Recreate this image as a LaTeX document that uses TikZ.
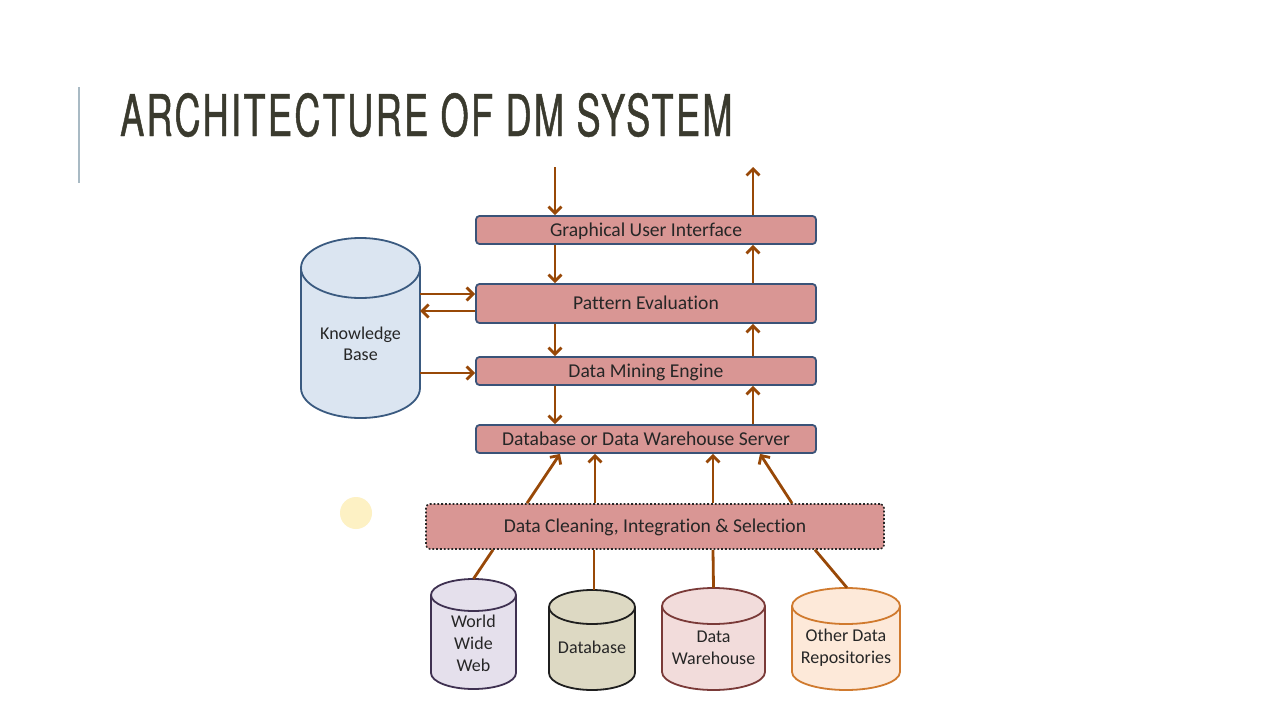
\documentclass[tikz,border=0pt]{standalone}
\usepackage{fontspec}
\setmainfont{Carlito}[Ligatures={NoCommon}]
\newfontfamily\titlefont[FakeStretch=0.6,LetterSpace=4,FakeBold=0.8]{TeX Gyre Heros}
\usetikzlibrary{arrows.meta}
\definecolor{boxfill}{HTML}{D99694}
\definecolor{boxline}{HTML}{3A5378}
\definecolor{arrc}{HTML}{984807}
\definecolor{txt}{HTML}{262626}
\definecolor{titlec}{HTML}{3A3A2E}
\definecolor{rulec}{HTML}{A9BAC4}
\definecolor{kbfill}{HTML}{DBE5F1}
\definecolor{kbline}{HTML}{3A5A80}
\definecolor{wwwfill}{HTML}{E5E0EC}
\definecolor{wwwline}{HTML}{3F3151}
\definecolor{dbfill}{HTML}{DDD9C3}
\definecolor{dbline}{HTML}{1F1F1F}
\definecolor{dwfill}{HTML}{F2DCDB}
\definecolor{dwline}{HTML}{7A3A38}
\definecolor{odfill}{HTML}{FDE9D9}
\definecolor{odline}{HTML}{D07A2E}
\definecolor{dotc}{HTML}{FDF1C4}
% cx, top, bottom, half width, ry, fill, line
\newcommand\drawcyl[7]{%
  \filldraw[fill=#6,draw=#7,line width=1.8pt] (#1,#3-#5) ellipse[x radius=#4, y radius=#5];
  \fill[#6] (#1-#4,#2+#5) rectangle (#1+#4,#3-#5);
  \draw[#7,line width=1.8pt] (#1-#4,#2+#5) -- (#1-#4,#3-#5) (#1+#4,#2+#5) -- (#1+#4,#3-#5);
  \filldraw[fill=#6,draw=#7,line width=1.8pt] (#1,#2+#5) ellipse[x radius=#4, y radius=#5];
}
\begin{document}
\begin{tikzpicture}[x=1pt,y=-1pt,
  layer/.style={draw=boxline, line width=1.8pt, fill=boxfill, rounded corners=3.5pt,
    minimum width=340pt, minimum height=28pt, inner sep=0pt,
    text height=14pt, text depth=1.5pt,
    font=\fontsize{19.6}{22}\selectfont, text=txt},
  cylnode/.style={inner sep=0pt, draw=none},
  cyltxt/.style={align=center, text=txt, font=\fontsize{18}{22}\selectfont, inner sep=0pt},
  arr/.style={draw=arrc, line width=2.8pt, -{Straight Barb[length=6.5pt,width=13pt]}},
  link/.style={draw=arrc, line width=2.8pt}]
\useasboundingbox (0,0) rectangle (1280,720);
\fill[white] (0,0) rectangle (1280,720);

% title
\draw[rulec, line width=1.5pt] (79,87) -- (79,183);
\node[anchor=base west, inner sep=0pt, text=titlec] (title) at (120,136)
  {\resizebox{612pt}{43pt}{\titlefont ARCHITECTURE OF DM SYSTEM}};

% layers
\node[layer] (gui) at (646,230) {Graphical User Interface};
\node[layer, minimum height=39pt] (pe) at (646,303.5) {Pattern Evaluation};
\node[layer] (dme) at (646,371) {Data Mining Engine};
\node[layer] (dbs) at (646,439) {Database or Data Warehouse Server};
\node[layer, draw=black!85, dotted, line width=1.6pt, rounded corners=4pt,
      minimum width=458pt, minimum height=45pt] (dc) at (655,526.5)
      {Data Cleaning, Integration \& Selection};

% knowledge base
\drawcyl{360.5}{238}{418}{59.5}{30}{kbfill}{kbline}
\node[cylnode, minimum width=119pt, minimum height=180pt] (kb) at (360.5,328) {};
\node[cyltxt, font=\fontsize{18}{21}\selectfont] (kbt) at (360.5,343.5) {Knowledge\\Base};

% sources
\drawcyl{473.5}{579}{689}{42.5}{16}{wwwfill}{wwwline}
\node[cylnode, minimum width=85pt, minimum height=110pt] (www) at (473.5,634) {};
\node[cyltxt] (wwwt) at (473.5,643) {World\\Wide\\Web};

\drawcyl{592}{590}{690}{43}{17}{dbfill}{dbline}
\node[cylnode, minimum width=86pt, minimum height=100pt] (db) at (592,640) {};
\node[cyltxt] (dbt) at (592,647) {Database};

\drawcyl{713.5}{588}{690}{51.5}{18}{dwfill}{dwline}
\node[cylnode, minimum width=103pt, minimum height=102pt] (dw) at (713.5,639) {};
\node[cyltxt] (dwt) at (713.5,647.5) {Data\\Warehouse};

\drawcyl{846}{588}{690}{54}{18}{odfill}{odline}
\node[cylnode, minimum width=108pt, minimum height=102pt] (od) at (846,639) {};
\node[cyltxt] (odt) at (846,647.5) {Other Data\\Repositories};

% highlight dot
\fill[dotc] (356,513) circle[radius=16];

% vertical flow arrows
\coordinate (inp) at (555,167);
\coordinate (outp) at (753,167);
\draw[arr] (inp) -- (gui.north -| inp);
\draw[arr] (gui.north -| outp) -- (outp);
\draw[arr] (gui.south -| inp) -- (pe.north -| inp);
\draw[arr] (pe.north -| outp) -- (gui.south -| outp);
\draw[arr] (pe.south -| inp) -- (dme.north -| inp);
\draw[arr] (dme.north -| outp) -- (pe.south -| outp);
\draw[arr] (dme.south -| inp) -- (dbs.north -| inp);
\draw[arr] (dbs.north -| outp) -- (dme.south -| outp);

% knowledge base arrows
\coordinate (pe1) at ([yshift=9.5pt]pe.west);
\coordinate (pe2) at ([yshift=-7.5pt]pe.west);
\coordinate (dm1) at ([yshift=-2pt]dme.west);
\draw[arr] (pe1 -| kb.east) -- (pe1);
\draw[arr] (pe2) -- (pe2 -| kb.east);
\draw[arr] (dm1 -| kb.east) -- (dm1);

% cleaning to server
\draw[arr] ([xshift=-128pt]dc.north) -- ([xshift=-86pt]dbs.south);
\draw[arr] ([xshift=-60pt]dc.north) -- ([xshift=-51pt]dbs.south);
\draw[arr] ([xshift=58pt]dc.north) -- ([xshift=67pt]dbs.south);
\draw[arr] ([xshift=137pt]dc.north) -- ([xshift=114pt]dbs.south);

% sources to cleaning
\draw[link] (www.north) -- ([xshift=-162pt]dc.south);
\draw[link] ([xshift=2pt]db.north) -- ([xshift=-61pt]dc.south);
\draw[link] (dw.north) -- ([xshift=58pt]dc.south);
\draw[link] ([xshift=1pt]od.north) -- ([xshift=160pt]dc.south);
\end{tikzpicture}
\end{document}
